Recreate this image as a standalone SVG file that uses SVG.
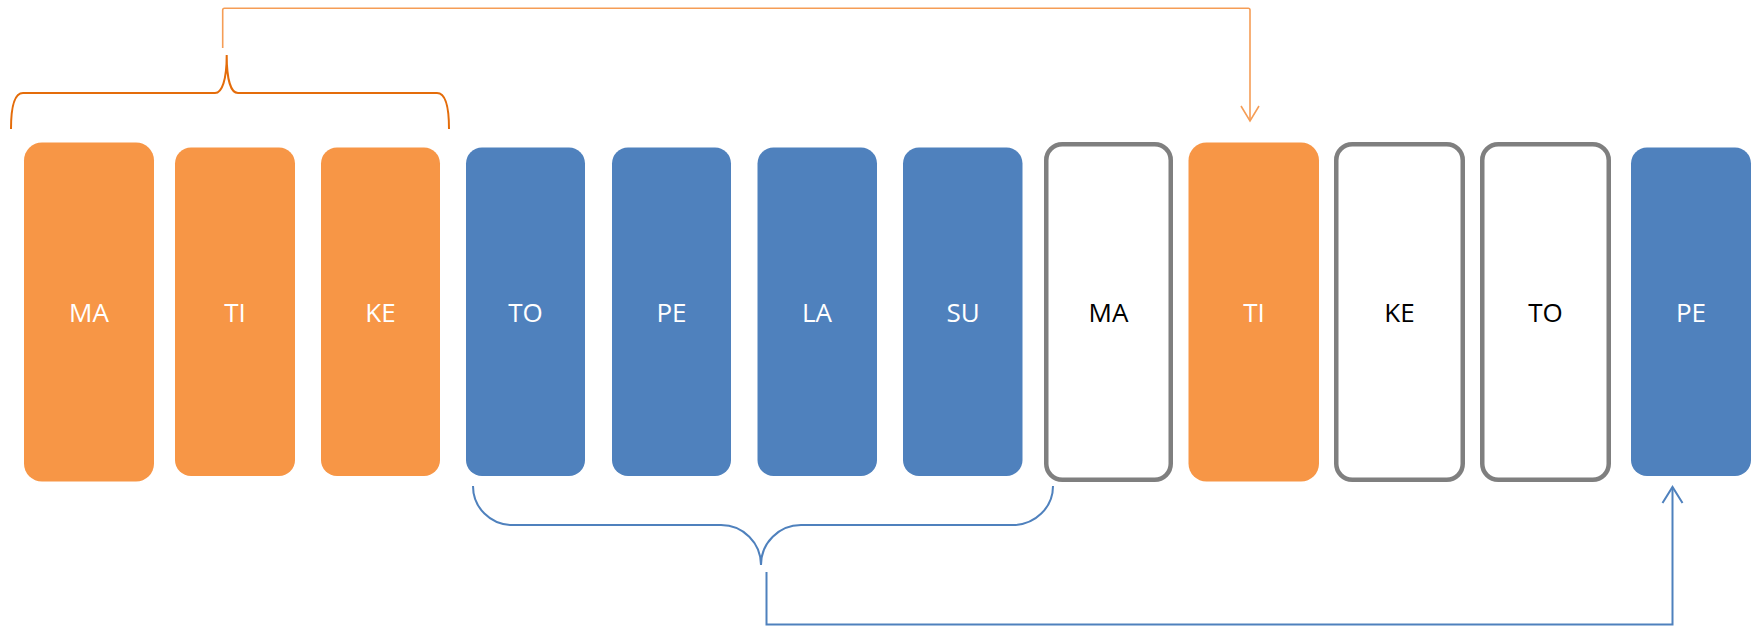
<svg xmlns="http://www.w3.org/2000/svg" width="1752" height="627" viewBox="0 0 1752 627">
<style>
.or{fill:#F79646}
.bl{fill:#4F81BD}
.ol{fill:#FFFFFF;stroke:#7F7F7F;stroke-width:4.5}
.t{font-family:"Open Sans","Liberation Sans",sans-serif;font-size:26px;text-anchor:middle;dominant-baseline:central}
.w{fill:#FFFFFF}
.k{fill:#000000}
.bo{fill:none;stroke:#E46C0A;stroke-width:2}
.co{fill:none;stroke:#F59D56;stroke-width:1.6}
.bb{fill:none;stroke:#4F81BD;stroke-width:2}
</style>
<rect width="1752" height="627" fill="#FFFFFF"/>
<g id="n1"><rect class="or" x="24" y="142.5" width="130" height="339" rx="18"/><text class="t w" x="89" y="312">MA</text></g>
<g id="n2"><rect class="or" x="175" y="147.5" width="120" height="328.5" rx="16"/><text class="t w" x="235" y="312">TI</text></g>
<g id="n3"><rect class="or" x="321" y="147.5" width="119" height="328.5" rx="16"/><text class="t w" x="380.5" y="312">KE</text></g>
<g id="n4"><rect class="bl" x="466" y="147.5" width="119" height="328.5" rx="16"/><text class="t w" x="525.5" y="312">TO</text></g>
<g id="n5"><rect class="bl" x="612" y="147.5" width="119" height="328.5" rx="16"/><text class="t w" x="671.5" y="312">PE</text></g>
<g id="n6"><rect class="bl" x="757.5" y="147.5" width="119.5" height="328.5" rx="16"/><text class="t w" x="817" y="312">LA</text></g>
<g id="n7"><rect class="bl" x="903" y="147.5" width="119.5" height="328.5" rx="16"/><text class="t w" x="963" y="312">SU</text></g>
<g id="n8"><rect class="ol" x="1046.25" y="144.25" width="124.5" height="335.5" rx="16"/><text class="t k" x="1108.5" y="312">MA</text></g>
<g id="n9"><rect class="or" x="1188.5" y="142.5" width="130.5" height="339" rx="18"/><text class="t w" x="1254" y="312">TI</text></g>
<g id="n10"><rect class="ol" x="1336.25" y="144.25" width="126.5" height="335.5" rx="16"/><text class="t k" x="1399.5" y="312">KE</text></g>
<g id="n11"><rect class="ol" x="1482.25" y="144.25" width="126.5" height="335.5" rx="16"/><text class="t k" x="1545.5" y="312">TO</text></g>
<g id="n12"><rect class="bl" x="1631" y="147.5" width="120" height="328.5" rx="16"/><text class="t w" x="1691" y="312">PE</text></g>
<g id="connectors">
<path class="bo" d="M11,129 C11,106 15,93 23,93 L215,93 C222,93 226.7,80 226.7,55 C226.7,80 231,93 238,93 L437,93 C445,93 449,106 449,129"/>
<path class="co" d="M222.7,48 L222.7,10 Q222.7,8.3 224.5,8.3 L1248.3,8.3 Q1250,8.3 1250,10 L1250,120"/>
<path class="co" d="M1241,106 L1250,121 L1259,106"/>
<path class="bb" d="M473,486 A39,39 0 0 0 512,525 L721,525 A40,40 0 0 1 761,565 A40,40 0 0 1 801,525 L1013,525 A40,39 0 0 0 1053,486"/>
<path class="bb" d="M766.5,572 L766.5,624.5 L1672.5,624.5 L1672.5,488"/>
<path class="bb" d="M1662.5,503 L1672.5,487 L1682.5,503"/>
</g>
</svg>
